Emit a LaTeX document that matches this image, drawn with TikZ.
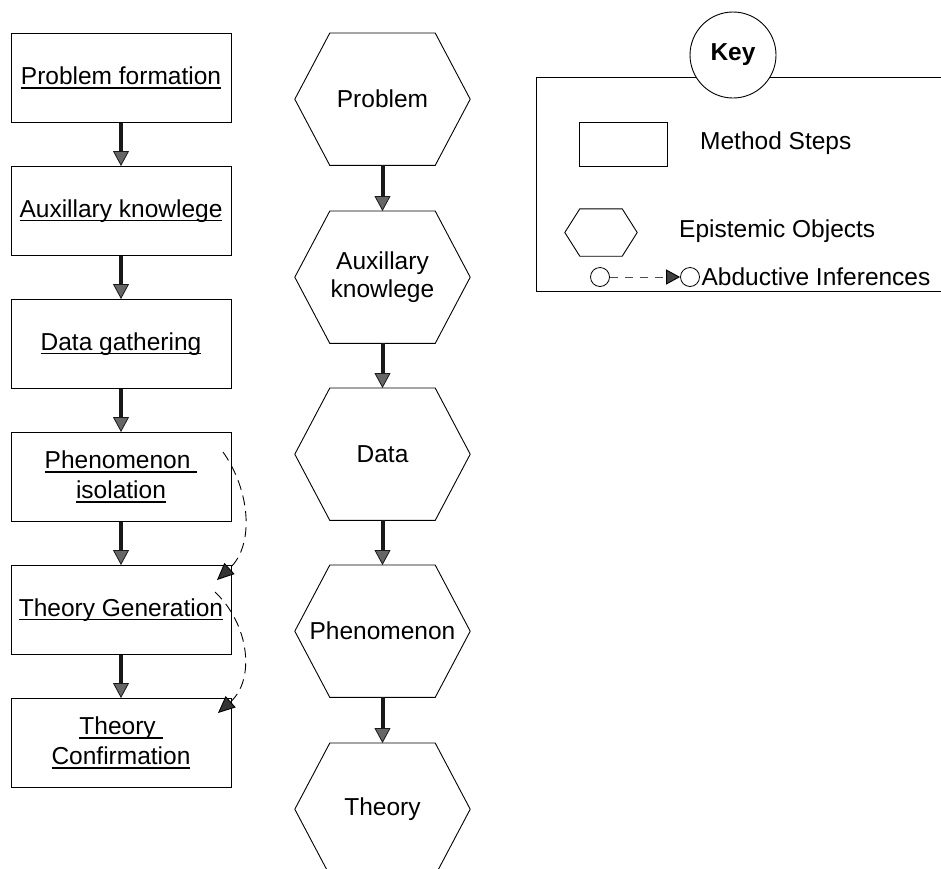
\documentclass[tikz,border=0pt]{standalone}
\usepackage{fontspec}
\setmainfont{Liberation Sans}
\usetikzlibrary{arrows.meta}

% underlined label text with a firm rule below the baseline
\newcommand\ultext[1]{\setbox0\hbox{#1}\rlap{\rule[-4.2pt]{\wd0}{1.8pt}}\box0}

\tikzset{
  stepbox/.style={draw, line width=0.9pt, minimum width=220pt, minimum height=89pt,
    inner sep=0pt, align=center, anchor=north},
  hexbox/.style={minimum width=175pt, minimum height=132pt, inner sep=0pt,
    align=center, anchor=north},
  flow/.style={line width=4pt, draw=black!90,
    -{Triangle[length=15pt,width=16pt,fill=black!60,line width=0.8pt]}},
  abduct/.style={dash pattern=on 10pt off 6pt, line width=0.9pt,
    -{Triangle[length=17pt,width=15pt,fill=black!80]}},
  hexline/.style={line width=0.9pt},
  keytext/.style={inner sep=0pt, anchor=west},
}

\begin{document}
\begin{tikzpicture}[x=1pt, y=-1pt, font=\fontsize{24.5}{28.5}\selectfont]
\useasboundingbox (0,0) rectangle (941,868);

% method steps
\node[stepbox] (s1) at (121,33)  {\ultext{Problem formation}};
\node[stepbox] (s2) at (121,166) {\ultext{Auxillary knowlege}};
\node[stepbox] (s3) at (121,299) {\ultext{Data gathering}};
\node[stepbox] (s4) at (121,432) {\ultext{Phenomenon\ }\\[1pt]\ultext{isolation}};
\node[stepbox] (s5) at (121,565) {\ultext{Theory Generation}};
\node[stepbox] (s6) at (121,698) {\ultext{Theory\ }\\[1pt]\ultext{Confirmation}};

\foreach \a/\b in {s1/s2, s2/s3, s3/s4, s4/s5, s5/s6}
  \draw[flow] (\a.south) -- (\b.north);

% epistemic objects
\node[hexbox] (h1) at (382.5,33)  {Problem};
\node[hexbox] (h2) at (382.5,211) {Auxillary\\knowlege};
\node[hexbox] (h3) at (382.5,388) {Data};
\node[hexbox] (h4) at (382.5,565) {Phenomenon};
\node[hexbox] (h5) at (382.5,743) {Theory};

\foreach \n in {h1,h2,h3,h4,h5}
  \draw[hexline] ([xshift=35pt]\n.north west) -- ([xshift=-35pt]\n.north east)
    -- (\n.east) -- ([xshift=-35pt]\n.south east) -- ([xshift=35pt]\n.south west)
    -- (\n.west) -- cycle;

\foreach \a/\b in {h1/h2, h2/h3, h3/h4, h4/h5}
  \draw[flow] (\a.south) -- (\b.north);

% abductive inferences between steps
\coordinate (ab1s) at (223,452);
\coordinate (ab1e) at (217,580);
\coordinate (ab2s) at (215,592);
\coordinate (ab2e) at (218,713);
\draw[abduct] (ab1s) .. controls (250,490) and (255,545) .. (ab1e);
\draw[abduct] (ab2s) .. controls (250,625) and (255,680) .. (ab2e);

% key
\coordinate (kTR) at (945,77);
\coordinate (kTL) at (536,77);
\coordinate (kBL) at (536,291);
\coordinate (kBR) at (945,291);
\draw[line width=0.9pt] (kTR) -- (kTL) -- (kBL) -- (kBR);
\node[circle, draw, fill=white, line width=0.9pt, minimum size=86pt, inner sep=0pt,
  font=\fontsize{24.5}{28}\selectfont\bfseries] (key) at (733,55) {Key};

\node[draw, line width=0.9pt, minimum width=88pt, minimum height=44pt, inner sep=0pt]
  (krect) at (623,144) {};
\node[keytext] (kt1) at (700,143) {Method Steps};

\node[minimum width=72pt, minimum height=47pt, inner sep=0pt] (khex) at (601,232.5) {};
\draw[hexline] ([xshift=15pt]khex.north west) -- ([xshift=-15pt]khex.north east)
  -- (khex.east) -- ([xshift=-15pt]khex.south east) -- ([xshift=15pt]khex.south west)
  -- (khex.west) -- cycle;
\node[keytext] (kt2) at (679,231) {Epistemic Objects};

\node[circle, draw, line width=0.8pt, minimum size=19pt, inner sep=0pt] (kc1) at (600,277) {};
\node[circle, draw, line width=0.8pt, minimum size=19pt, inner sep=0pt] (kc2) at (690,277) {};
\draw[dash pattern=on 8pt off 7pt, line width=0.9pt, draw=black!70,
  -{Triangle[length=14pt,width=15pt,fill=black!75,color=black]}] (kc1) -- (kc2);
\node[keytext, inner sep=1.5pt] (kt3) at (kc2.east) {Abductive Inferences};

\end{tikzpicture}
\end{document}
